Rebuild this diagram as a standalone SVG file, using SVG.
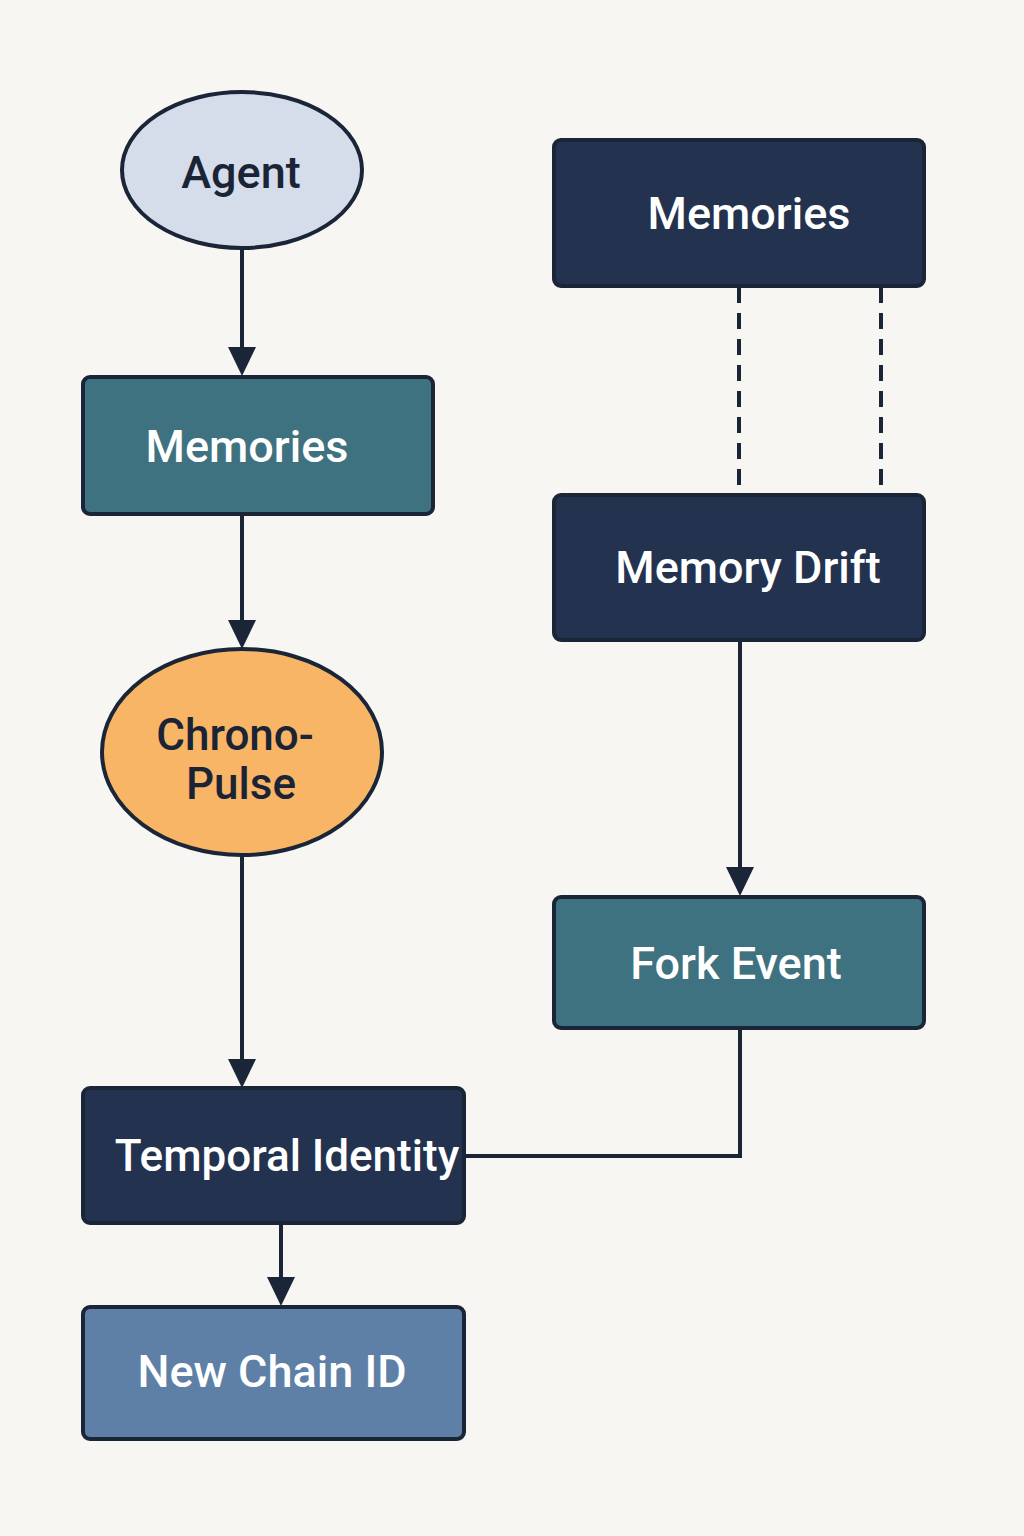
<svg xmlns="http://www.w3.org/2000/svg" width="1024" height="1536" viewBox="0 0 1024 1536">
<style>
.bx{stroke:#1a2538;stroke-width:4}
.navy{fill:#23324f}
.teal{fill:#3f7280}
.lb{fill:#5e80a6}
.t{font-family:Roboto,"Noto Sans",sans-serif;font-weight:500;font-size:45px;text-anchor:middle;fill:#ffffff}
.d{fill:#1a2436}
.ln{stroke:#1a2538;stroke-width:4;fill:none}
.dash{stroke:#1a2538;stroke-width:4;fill:none;stroke-dasharray:16 10}
</style>
<rect width="1024" height="1536" fill="#f7f6f3"/>
<g id="connectors">
<line class="ln" x1="242" y1="249" x2="242" y2="347"/>
<path d="M228 347 L256 347 L242 376 Z" fill="#1a2538"/>
<line class="ln" x1="242" y1="514" x2="242" y2="620"/>
<path d="M228 620 L256 620 L242 649 Z" fill="#1a2538"/>
<line class="ln" x1="242" y1="856" x2="242" y2="1059"/>
<path d="M228 1059 L256 1059 L242 1088 Z" fill="#1a2538"/>
<line class="ln" x1="281" y1="1223" x2="281" y2="1278"/>
<path d="M267 1277 L295 1277 L281 1306 Z" fill="#1a2538"/>
<line class="dash" x1="739" y1="287" x2="739" y2="494"/>
<line class="dash" x1="881" y1="287" x2="881" y2="494"/>
<line class="ln" x1="740" y1="641" x2="740" y2="868"/>
<path d="M726 867 L754 867 L740 896 Z" fill="#1a2538"/>
<polyline class="ln" points="740,1029 740,1156 464,1156"/>
</g>
<g id="agent">
<ellipse cx="242" cy="170" rx="120" ry="78" fill="#d5dcea" class="bx"/>
<text x="241" y="188" class="t d">Agent</text>
</g>
<g id="memories-left">
<rect x="83" y="377" width="350" height="137" rx="7" class="bx teal"/>
<text x="247" y="462" class="t">Memories</text>
</g>
<g id="chrono-pulse">
<ellipse cx="242" cy="752" rx="140" ry="103" fill="#f8b565" class="bx"/>
<text x="235" y="750" class="t d" style="font-size:44px">Chrono-</text>
<text x="241" y="799" class="t d" style="font-size:44px">Pulse</text>
</g>
<g id="temporal-identity">
<rect x="83" y="1088" width="381" height="135" rx="7" class="bx navy"/>
<text x="287" y="1171" class="t" style="font-size:44px">Temporal Identity</text>
</g>
<g id="new-chain-id">
<rect x="83" y="1307" width="381" height="132" rx="7" class="bx lb"/>
<text x="272" y="1387" class="t">New Chain ID</text>
</g>
<g id="memories-right">
<rect x="554" y="140" width="370" height="146" rx="7" class="bx navy"/>
<text x="749" y="229" class="t">Memories</text>
</g>
<g id="memory-drift">
<rect x="554" y="495" width="370" height="145" rx="7" class="bx navy"/>
<text x="748" y="583" class="t">Memory Drift</text>
</g>
<g id="fork-event">
<rect x="554" y="897" width="370" height="131" rx="7" class="bx teal"/>
<text x="736" y="979" class="t">Fork Event</text>
</g>
</svg>
